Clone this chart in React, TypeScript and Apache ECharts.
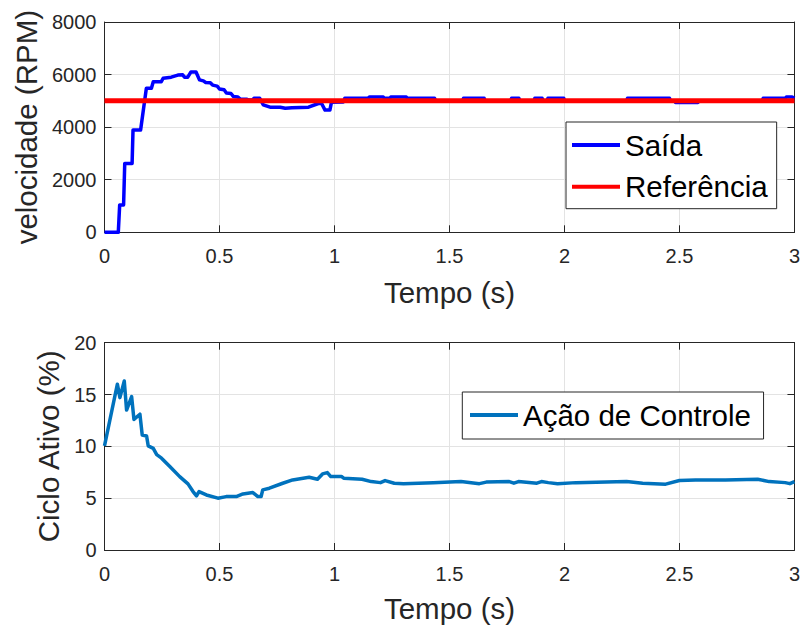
import React, { useEffect, useRef } from "react";
import * as echarts from "echarts";

// ---- Data ----
const xTicks = [0, 0.5, 1, 1.5, 2, 2.5, 3];

const saidaTime = [
  0, 0.06, 0.066, 0.083, 0.088, 0.12, 0.124, 0.157, 0.182, 0.204, 0.212, 0.247, 0.255, 0.29,
  0.319, 0.34, 0.348, 0.362, 0.376, 0.398, 0.413, 0.43, 0.44, 0.46, 0.47, 0.49, 0.5, 0.52,
  0.53, 0.55, 0.56, 0.58, 0.59, 0.62, 0.63, 0.645, 0.65, 0.675, 0.69, 0.72, 0.764, 0.786,
  0.815, 0.887, 0.93, 0.944, 0.959, 0.98, 0.987, 1.039, 1.045, 1.147, 1.152, 1.212, 1.216,
  1.241, 1.245, 1.312, 1.316, 1.435, 1.44, 1.557, 1.561, 1.651, 1.655, 1.766, 1.77, 1.802,
  1.806, 1.867, 1.871, 1.903, 1.907, 1.924, 1.928, 1.997, 2.0, 2.27, 2.274, 2.457, 2.461,
  2.479, 2.483, 2.58, 2.584, 2.86, 2.864, 2.961, 2.965, 2.99, 3.0,
];
const saidaRPM = [
  0, 0, 1040, 1040, 2620, 2620, 3890, 3890, 5480, 5480, 5730, 5730, 5860, 5900,
  5980, 5990, 5900, 5900, 6100, 6100, 5800, 5760, 5700, 5690, 5600, 5560, 5450, 5420,
  5300, 5280, 5170, 5150, 5070, 5060, 5030, 5040, 5100, 5100, 4850, 4760, 4760, 4720,
  4740, 4760, 4900, 4900, 4650, 4650, 4950, 4960, 5100, 5100, 5150, 5150, 5100,
  5100, 5150, 5150, 5100, 5100, 4995, 4995, 5100, 5100, 4995, 4995, 5100, 5100,
  4995, 4995, 5100, 5100, 4995, 4995, 5100, 5100, 4995, 4995, 5100, 5100, 4995,
  4995, 4940, 4940, 4995, 4995, 5100, 5100, 5150, 5150, 5100,
];

const referenciaTime = [0, 3];
const referenciaRPM = [5000, 5000];

const acaoTime = [
  0, 0.056, 0.067, 0.086, 0.096, 0.118, 0.128, 0.154, 0.164, 0.183, 0.19, 0.212, 0.227, 0.248,
  0.284, 0.327, 0.363, 0.385, 0.4, 0.411, 0.443, 0.493, 0.529, 0.573, 0.602, 0.645, 0.667,
  0.681, 0.688, 0.717, 0.775, 0.818, 0.89, 0.926, 0.948, 0.969, 0.984, 1.03, 1.04, 1.12,
  1.16, 1.2, 1.22, 1.26, 1.3, 1.43, 1.55, 1.63, 1.66, 1.76, 1.78, 1.8, 1.88, 1.9, 1.93,
  1.97, 2.05, 2.27, 2.34, 2.44, 2.5, 2.57, 2.7, 2.84, 2.89, 2.96, 2.98, 3.0,
];
const acaoPercent = [
  10.05, 16.0, 14.7, 16.3, 13.5, 14.8, 12.6, 13.1, 11.1, 11.0, 10.05, 9.8, 9.2, 8.86,
  8.05, 7.08, 6.38, 5.64, 5.22, 5.64, 5.31, 5.0, 5.15, 5.15, 5.41, 5.54, 5.15,
  5.15, 5.8, 5.96, 6.44, 6.76, 7.02, 6.83, 7.34, 7.47, 7.08, 7.1, 6.93, 6.83,
  6.6, 6.5, 6.7, 6.44, 6.4, 6.5, 6.6, 6.4, 6.55, 6.6, 6.45, 6.6, 6.45, 6.6, 6.5,
  6.4, 6.5, 6.6, 6.45, 6.35, 6.7, 6.76, 6.76, 6.83, 6.6, 6.5, 6.4, 6.6,
];

const FONT = "'Liberation Sans', Arial, sans-serif";
const AXIS_COLOR = "#262626";
const GRID_COLOR = "#e3e3e3";

const zip = (a: number[], b: number[]) => a.map((v, i) => [v, b[i]]);
const plain = (v: number) => String(v);

function xAxes(gridIndex: number, nameGap: number) {
  const common = {
    gridIndex,
    type: "value",
    min: xTicks[0],
    max: xTicks[xTicks.length - 1],
    interval: 0.5,
    axisLine: { show: true, onZero: false, lineStyle: { color: AXIS_COLOR, width: 1 } },
    axisTick: { show: true, inside: true, length: 7, lineStyle: { color: AXIS_COLOR } },
  };
  return [
    {
      ...common,
      position: "bottom",
      name: "Tempo (s)",
      nameLocation: "middle",
      nameGap,
      nameTextStyle: { fontSize: 29.5, color: AXIS_COLOR, fontFamily: FONT },
      axisLabel: { fontSize: 20, color: AXIS_COLOR, fontFamily: FONT, margin: 14, formatter: plain },
      splitLine: { show: true, lineStyle: { color: GRID_COLOR, width: 1 } },
    },
    {
      ...common,
      position: "top",
      axisLabel: { show: false },
      splitLine: { show: false },
    },
  ];
}

function yAxes(gridIndex: number, max: number, interval: number, name: string, nameGap: number) {
  const common = {
    gridIndex,
    type: "value",
    min: 0,
    max,
    interval,
    axisLine: { show: true, onZero: false, lineStyle: { color: AXIS_COLOR, width: 1 } },
    axisTick: { show: true, inside: true, length: 7, lineStyle: { color: AXIS_COLOR } },
  };
  return [
    {
      ...common,
      position: "left",
      name,
      nameLocation: "middle",
      nameGap,
      nameTextStyle: { fontSize: 29.5, color: AXIS_COLOR, fontFamily: FONT },
      axisLabel: { fontSize: 20, color: AXIS_COLOR, fontFamily: FONT, margin: 8, formatter: plain },
      splitLine: { show: true, lineStyle: { color: GRID_COLOR, width: 1 } },
    },
    {
      ...common,
      position: "right",
      axisLabel: { show: false },
      splitLine: { show: false },
    },
  ];
}

export default function App() {
  const ref = useRef<HTMLDivElement>(null);

  useEffect(() => {
    if (!ref.current) return;
    const chart = echarts.init(ref.current, undefined, { renderer: "svg" });
    const legendCommon = {
      orient: "vertical",
      selectedMode: false,
      itemWidth: 48,
      itemHeight: 4,
      itemGap: 11.7,
      borderColor: AXIS_COLOR,
      borderWidth: 1,
      backgroundColor: "#ffffff",
      textStyle: { fontSize: 29.5, color: "#000000", fontFamily: FONT, lineHeight: 30 },
    };
    chart.setOption({
      animation: false,
      backgroundColor: "#ffffff",
      grid: [
        { left: 104.5, top: 22, width: 694.5, height: 210.3 },
        { left: 104.5, top: 342.7, width: 694.5, height: 207.3 },
      ],
      xAxis: [...xAxes(0, 45), ...xAxes(1, 43)],
      yAxis: [
        ...yAxes(0, 8000, 2000, "velocidade (RPM)", 58.5),
        ...yAxes(1, 20, 5, "Ciclo Ativo (%)", 38.5),
      ],
      legend: [
        {
          ...legendCommon,
          left: 566,
          top: 122,
          padding: [8, 9, 7, 6],
          data: [
            { name: "Saída", icon: "rect" },
            { name: "Referência", icon: "rect" },
          ],
        },
        {
          ...legendCommon,
          left: 462.3,
          top: 392,
          padding: [8, 12.6, 9, 7.7],
          data: [{ name: "Ação de Controle", icon: "rect" }],
        },
      ],
      series: [
        {
          name: "Saída",
          type: "line",
          xAxisIndex: 0,
          yAxisIndex: 0,
          data: zip(saidaTime, saidaRPM),
          symbol: "none",
          clip: false,
          color: "#0000ff",
          lineStyle: { color: "#0000ff", width: 3.5, join: "round" },
        },
        {
          name: "Referência",
          type: "line",
          xAxisIndex: 0,
          yAxisIndex: 0,
          data: zip(referenciaTime, referenciaRPM),
          symbol: "none",
          clip: false,
          color: "#ff0000",
          lineStyle: { color: "#ff0000", width: 5 },
        },
        {
          name: "Ação de Controle",
          type: "line",
          xAxisIndex: 2,
          yAxisIndex: 2,
          data: zip(acaoTime, acaoPercent),
          symbol: "none",
          clip: false,
          color: "#0072bd",
          lineStyle: { color: "#0072bd", width: 3.5, join: "round" },
        },
      ],
    });
    return () => chart.dispose();
  }, []);

  return (
    <div
      ref={ref}
      style={{ position: "fixed", left: 0, top: 0, width: 803, height: 625 }}
    />
  );
}
